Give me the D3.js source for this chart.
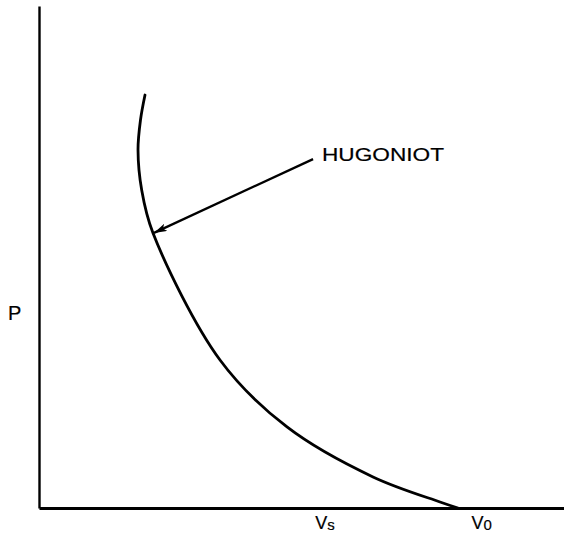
<!DOCTYPE html>
<html><head><meta charset="utf-8">
<script src="https://cdn.jsdelivr.net/npm/d3@7"></script>
<style>html,body{margin:0;padding:0;background:#fff;}svg{display:block;}</style>
</head><body>
<svg id="c" width="564" height="543"></svg>
<script>
// Hugoniot curve (arbitrary units: V specific volume, P pressure)
const hugoniotV = [2.019, 1.933, 1.886, 1.956, 2.171, 3.448, 4.724, 6.362, 7.638, 7.981];
const hugoniotP = [8.227, 7.729, 7.131, 6.335, 5.478, 2.948, 1.614, 0.618, 0.120, 0.0];
const arrowV = [5.22, 2.19];
const arrowP = [6.95, 5.48];
const curveLabel = "HUGONIOT";
const axisLabelY = "P";
const xLabels = [{main: "V", sub: "s", v: 5.26}, {main: "V", sub: "0", v: 8.24}];

const svg = d3.select("#c");
const x = d3.scaleLinear().domain([0, 10]).range([39, 564]);
const y = d3.scaleLinear().domain([0, 10]).range([508, 6]);

const xAxis = d3.axisBottom(x).tickValues([]).tickSizeOuter(0);
const yAxis = d3.axisLeft(y).tickValues([]).tickSizeOuter(0);
svg.append("g").attr("transform", `translate(0,${y(0)})`).call(xAxis)
  .select(".domain").attr("stroke", "#000").attr("stroke-width", 2.8);
svg.append("g").attr("transform", `translate(${x(0)},0)`).call(yAxis)
  .select(".domain").attr("stroke", "#000").attr("stroke-width", 2.4);

const pts = hugoniotV.map((v, i) => [v, hugoniotP[i]]);
const line = d3.line().x(d => x(d[0])).y(d => y(d[1])).curve(d3.curveCatmullRom.alpha(0.5));
svg.append("path").datum(pts).attr("d", line)
  .attr("fill", "none").attr("stroke", "#000").attr("stroke-width", 2.8).attr("stroke-linecap", "round");

// arrow
const defs = svg.append("defs");
defs.append("marker").attr("id", "ah").attr("viewBox", "0 0 13 8").attr("refX", 13).attr("refY", 4)
  .attr("markerWidth", 13).attr("markerHeight", 8).attr("markerUnits", "userSpaceOnUse").attr("orient", "auto")
  .append("path").attr("d", "M0,0 L13,4 L0,8 L3,4 Z").attr("fill", "#000");
svg.append("line")
  .attr("x1", x(arrowV[0])).attr("y1", y(arrowP[0]))
  .attr("x2", x(arrowV[1])).attr("y2", y(arrowP[1]))
  .attr("stroke", "#000").attr("stroke-width", 2.3).attr("marker-end", "url(#ah)");

const font = "'Liberation Sans', Arial, Helvetica, sans-serif";
svg.append("text").attr("x", 322).attr("y", 160.5)
  .attr("font-family", font).attr("font-size", 19).attr("fill", "#000")
  .attr("stroke", "#000").attr("stroke-width", 0.2)
  .attr("textLength", 122).attr("lengthAdjust", "spacingAndGlyphs").text(curveLabel);

svg.append("text").attr("x", 8).attr("y", 320)
  .attr("font-family", font).attr("font-size", 20).attr("fill", "#000")
  .attr("stroke", "#000").attr("stroke-width", 0.2).text(axisLabelY);

xLabels.forEach(l => {
  const t = svg.append("text").attr("x", x(l.v)).attr("y", 529)
    .attr("font-family", font).attr("font-size", 18).attr("fill", "#000")
    .attr("stroke", "#000").attr("stroke-width", 0.2);
  t.append("tspan").text(l.main);
  t.append("tspan").attr("dy", 1).attr("font-size", 15).text(l.sub);
});
</script>
</body></html>
